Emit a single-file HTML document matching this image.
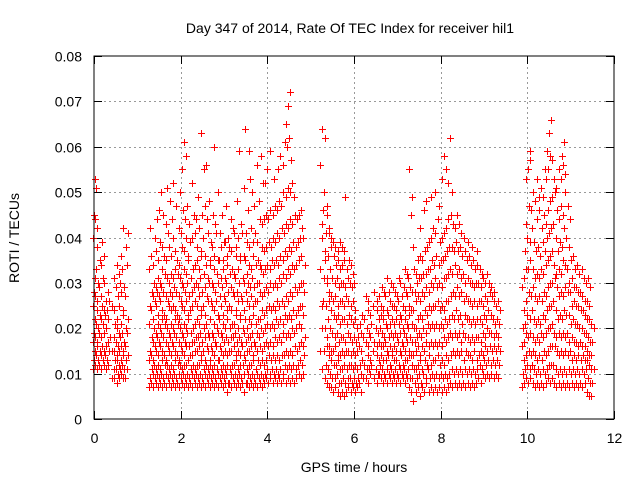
<!DOCTYPE html>
<html><head><meta charset="utf-8"><style>
body{margin:0;background:#fff;}
svg{display:block;font-family:"Liberation Sans",sans-serif;}
</style></head><body>
<svg id="chart" width="640" height="480">
<rect width="640" height="480" fill="#fff"/>
<text x="350" y="33" font-size="14" text-anchor="middle">Day 347 of 2014, Rate Of TEC Index for receiver hil1</text>
<text x="354" y="472" font-size="14" text-anchor="middle">GPS time / hours</text>
<text transform="translate(19,238) rotate(-90)" font-size="14" text-anchor="middle">ROTI / TECUs</text>
<g id="grid"></g><g id="ticks"></g><g id="points"></g>
<rect x="94" y="56" width="520" height="363" fill="none" stroke="#000"/>
</svg>
<script>
// Each row: [GPS time (h), ROTI values (milli-TECU/s)...]
const segmentA=[
[0,11,13,15,17,19,22,25,28,31,40,45,53],[0.05,12,14,16,18,21,24,27,33,38,44,51],[0.1,11,13,15,17,20,23,26,30,35,42],[0.15,12,14,16,19,22,25,29,34,39],[0.2,11,13,15,18,21,24,27,31,36],[0.25,12,14,16,19,23,26,30],[0.3,11,13,17,20,24,28],[0.35,12,15,18,22,26],
[0.45,9,11,13,15,18,21,25,31],[0.5,9,11,13,15,17,20,24,29,34],[0.55,8,10,12,14,16,19,22,27,32],[0.6,9,11,13,15,18,21,25,30,36],[0.65,10,12,14,16,19,23,28,33],[0.7,9,11,13,15,17,20,24,29,38,42],[0.75,9,11,14,16,19,22,27,34,41]];
const segmentB=[
[1.3,7,9,11,13,15,18,21,25,28,33,42],[1.35,8,10,12,14,17,20,24,27,30,36],[1.4,7,9,11,13,16,19,22,26,29,34,40],[1.45,8,10,12,15,18,21,25,28,31,37,44],[1.5,7,9,11,14,17,20,23,27,30,35,46],[1.55,8,10,13,16,19,22,26,29,33,39,50],[1.6,7,9,12,15,18,21,24,28,32,38,45],[1.65,8,10,12,14,17,20,23,27,31,36,43,51],[1.7,7,9,11,13,16,19,22,26,30,35,41],[1.75,8,10,12,15,18,21,25,28,32,38,48],[1.8,7,9,11,14,17,20,24,27,31,36,44,52],[1.85,8,10,13,16,19,22,25,29,33,40],[1.9,7,9,12,15,18,21,24,28,32,37,47],[1.95,8,10,12,14,17,20,23,27,31,35,42,50],
[2.0,7,9,11,13,16,19,22,26,30,34,41,55],[2.05,8,10,12,15,18,21,25,29,33,38,46,61],[2.1,7,9,12,14,17,20,24,28,32,37,44,58],[2.15,8,10,13,16,19,22,26,30,35,40,47],[2.2,7,9,11,13,16,19,23,27,31,36,43],[2.25,8,10,12,14,17,20,24,28,33,39,52],[2.3,7,9,11,14,17,21,25,29,34,40,45],[2.35,8,10,12,15,18,22,26,30,35,41,44],[2.4,7,9,12,15,18,21,25,29,33,38,49],[2.45,8,10,13,16,19,23,27,31,36,42],[2.5,7,9,11,14,17,20,24,28,32,37,45,55,63],[2.55,8,10,12,15,18,21,25,29,34,40,47,56],[2.6,7,9,11,13,16,19,23,27,31,36,44],[2.65,8,10,12,15,18,22,26,30,35,41,48],[2.7,7,9,11,13,16,19,22,26,30,34,39],[2.75,8,10,12,15,18,21,25,29,33,38,45,60],[2.8,7,9,11,14,17,20,24,28,32,36,43],[2.85,8,10,13,16,19,22,26,30,35,41,50],[2.9,7,9,11,13,16,19,23,27,31,35,41],[2.95,8,10,12,15,18,21,25,29,33,38,45],
[3.0,7,9,11,14,17,20,23,27,31,35,39],[3.05,8,10,12,15,18,22,26,30,34,39,47],[3.1,6,8,11,14,17,20,24,28,32,36,40],[3.15,8,10,12,15,18,21,25,29,33,38,44],[3.2,7,9,12,15,18,21,24,28,32,37,42],[3.25,8,10,13,16,19,23,27,31,36,41],[3.3,7,9,11,14,17,20,24,28,33,38,48],[3.35,8,10,12,15,18,22,26,30,35,40,59],[3.4,7,9,12,14,17,20,23,27,31,36,43],[3.45,8,10,13,16,19,22,26,30,35,41,51,64],[3.5,6,8,11,14,17,20,24,28,32,36,41],[3.55,8,10,12,15,18,22,26,30,34,39,46,59],[3.6,7,9,12,15,18,21,25,29,33,38,53],[3.65,8,10,13,16,19,23,27,31,36,42,50],[3.7,7,9,11,14,17,21,25,29,34,39,47],[3.75,8,10,13,16,19,22,26,30,35,41,56],[3.8,7,9,12,15,18,22,26,30,34,39,48],[3.85,8,10,13,16,20,24,28,33,38,44,58],[3.9,7,9,12,15,19,23,27,32,37,43,52],[3.95,8,10,13,16,20,24,28,33,38,44,52],
[4.0,9,11,14,17,21,25,29,34,39,45,55],[4.05,8,10,13,16,20,24,28,33,38,44,59],[4.1,9,11,14,17,21,25,30,35,40,46],[4.15,8,10,13,16,20,24,29,34,39,45,53],[4.2,9,11,14,18,22,26,30,35,41,47],[4.25,8,10,13,17,21,25,29,34,40,46,55],[4.3,9,11,14,18,22,26,31,36,42,48,58],[4.35,8,10,14,17,21,25,30,35,41,47,56],[4.4,9,12,15,19,23,27,32,37,43,50,61],[4.45,8,11,14,18,22,26,31,36,42,49,60,69,65],[4.5,9,12,15,19,23,28,33,38,44,51,62,72],[4.55,8,11,14,18,22,27,32,37,43,50,57],[4.6,9,12,16,20,24,29,34,39,45,52],[4.65,8,11,15,19,23,28,33,38,44,49],[4.7,9,12,16,20,24,29,34,39,45],[4.75,10,13,17,21,25,30,35,40,46],[4.8,9,12,16,20,25,30,36,42],[4.85,10,14,18,23,28,34,40]];
const segmentC=[
[5.25,15,20,26,33,40,46,56,64],[5.3,11,15,20,25,31,37,43,50,62],[5.35,9,12,16,20,25,30,35,41,47],[5.4,8,11,14,18,22,26,31,36,41,45],[5.45,7,10,13,16,20,24,28,33,38,42],[5.5,7,9,12,15,19,23,27,31,36,40],[5.55,6,9,12,15,18,22,26,30,34,39],[5.6,7,10,13,16,19,23,27,31,35,38],[5.65,6,8,11,14,17,21,25,29,33,37],[5.7,5,8,11,14,18,22,26,30,34,39],[5.75,6,9,12,15,18,22,26,30,35,38],[5.8,5,8,11,14,17,21,25,29,33,37,49],[5.85,6,9,12,15,19,23,27,31,35],[5.9,7,9,12,15,18,22,26,30,34],[5.95,6,8,11,14,17,21,25,29,32],
[6.0,7,9,12,15,18,22,26,30],[6.05,6,8,11,14,17,20,24],[6.1,7,9,12,15,18,21],[6.15,8,10,13,16,19,23],[6.2,6,9,12,15,18,22],[6.3,9,11,14,17,20,24,27],[6.35,8,11,13,16,19,23,26],[6.4,10,12,15,18,21,25],[6.5,9,11,14,17,20,24,28],[6.55,8,10,13,16,19,22,26],[6.6,10,12,14,17,20,23,27],[6.65,9,11,13,16,19,22,25,29],[6.7,8,10,13,16,18,21,24,28],[6.75,9,11,14,17,20,23,27,31],[6.8,8,10,12,15,18,21,24,28],[6.85,9,11,14,16,19,22,26,30],[6.9,8,10,13,15,18,21,25,29],[6.95,9,11,13,16,19,22,25,28],
[7.0,8,10,12,15,18,21,24,27,31],[7.05,9,11,14,17,19,22,26,30],[7.1,8,10,12,15,17,20,23,27],[7.15,9,11,13,16,19,22,25,29,33],[7.2,8,10,13,15,18,21,24,28,32],[7.25,9,11,14,17,20,23,27,31],[7.3,7,9,12,15,18,21,25,29,49,55],[7.35,6,9,11,14,17,20,24,28,33,45],[7.4,4,8,11,14,17,20,24,28,32,38],[7.45,6,9,12,15,18,22,26,30,35],[7.5,7,10,13,16,19,23,27,31,36],[7.55,5,8,11,14,18,22,26,31,35,42],[7.6,7,10,13,16,20,24,28,32,37],[7.65,6,9,12,15,19,23,27,32,38,46],[7.7,8,11,14,17,21,25,29,33,39,48],[7.75,6,9,12,16,20,24,28,33,40],[7.8,7,10,13,17,21,25,30,35,42,49],[7.85,6,9,13,16,20,25,29,34,41],[7.9,7,10,14,17,21,26,31,36,44,50],[7.95,6,9,12,16,20,24,29,34,39],
[8.0,7,10,13,17,21,25,30,35,40,47],[8.05,6,9,12,16,20,24,29,35,41,53],[8.1,7,10,14,18,22,26,31,36,42,58],[8.15,6,9,13,17,21,26,31,37,44,55],[8.2,7,10,14,18,22,27,32,38,45,52],[8.25,8,11,15,19,23,28,33,38,43,62],[8.3,7,10,14,18,22,27,32,37,42,50],[8.35,8,11,15,19,24,29,34,39,45],[8.4,7,10,14,18,22,27,32,37,43],[8.45,8,11,15,19,23,28,33,38,41],[8.5,7,10,13,17,21,26,31,36,40],[8.55,8,11,15,19,23,27,32,37],[8.6,7,10,14,18,22,26,30,35,39],[8.65,8,11,14,18,22,26,31,36],[8.7,7,10,13,17,21,25,30,34,38],[8.75,8,11,15,18,22,26,30,35],[8.8,7,10,13,17,21,25,29,33,37],[8.85,8,11,14,18,22,26,30,34],[8.9,9,12,15,18,22,26,30,33],[8.95,8,11,14,17,21,25,29,32],
[9.0,10,13,16,19,23,27,31],[9.05,9,12,15,18,22,26,30],[9.1,10,13,16,20,24,28,32],[9.15,9,12,15,19,23,27,30],[9.2,10,13,16,19,22,26,29],[9.25,9,12,15,18,21,25,28],[9.3,10,13,16,19,22,26],[9.35,9,12,15,18,21,24]];
const segmentD=[
[9.9,7,10,13,16,20,24,29],[9.95,8,11,14,17,21,26,31,37,43],[10.0,9,12,15,19,23,28,33,40,47,53],[10.05,8,11,14,18,22,27,33,39,46,55,59],[10.1,9,12,15,19,24,29,35,42,50,57],[10.15,8,11,14,18,22,27,33,39,48],[10.2,7,10,13,17,21,26,31,37,44],[10.25,8,11,14,18,22,27,32,38,46,53],[10.3,7,10,13,17,21,26,31,36,42,49],[10.35,8,11,15,19,23,28,33,39,45,51],[10.4,7,10,14,18,22,27,32,37,43,49,55],[10.45,8,11,15,19,24,29,34,40,46,53,59],[10.5,9,12,16,20,25,30,35,41,48,55,63],[10.55,8,12,16,20,25,30,36,42,49,58,66],[10.6,9,12,16,21,26,31,37,43,50,57],[10.65,8,11,15,19,24,29,34,40,46,53],[10.7,7,10,14,18,22,27,32,37,44,51],[10.75,8,11,15,19,23,28,33,39,47,55],[10.8,7,10,14,18,22,27,32,38,45,53,58],[10.85,8,11,15,19,24,29,35,42,50,56,61],[10.9,7,10,14,18,23,28,34,40,47,54],[10.95,8,11,15,19,23,28,33,38,44],
[11.0,7,10,13,17,21,25,30,35],[11.05,8,11,14,18,22,26,31,36],[11.1,7,10,13,17,21,25,29,33],[11.15,8,11,14,17,21,25,29,34],[11.2,7,10,13,16,20,24,28,32],[11.25,8,11,14,17,20,24,28,33],[11.3,7,10,13,16,19,23,27,31],[11.35,8,11,13,16,19,22,26,30],[11.4,6,9,12,15,18,22,26,31],[11.45,5,8,11,14,17,21,25,29],[11.5,5,8,11,14,17,20]];
const yTicks=[0,0.01,0.02,0.03,0.04,0.05,0.06,0.07,0.08];
const xTicks=[0,2,4,6,8,10,12];
const X0=94,X1=614,Y0=419,Y1=56;
const xs=t=>X0+(t/12)*(X1-X0);
const ys=v=>Y0-(v/0.08)*(Y0-Y1);
const NS='http://www.w3.org/2000/svg';
const grid=document.getElementById('grid'),tk=document.getElementById('ticks'),pts=document.getElementById('points');
function mk(tag,attrs,parent){const e=document.createElementNS(NS,tag);for(const k in attrs)e.setAttribute(k,attrs[k]);parent.appendChild(e);return e;}
yTicks.forEach(v=>{const y=Math.round(ys(v))+0.5;
 if(v>0&&v<0.08){const g=mk('line',{x1:X0,x2:X1,y1:y,y2:y,stroke:'#999','stroke-dasharray':'2,3'},grid);
 
 }
 mk('line',{x1:X0,x2:X0+8,y1:y,y2:y,stroke:'#000'},tk);mk('line',{x1:X1,x2:X1-8,y1:y,y2:y,stroke:'#000'},tk);
 const t=mk('text',{x:82,y:y+5,'font-size':14,'text-anchor':'end'},tk);t.textContent=v===0?'0':v.toFixed(2);
 
 });
xTicks.forEach(h=>{const x=Math.round(xs(h))+0.5;
 if(h>0&&h<12){const g=mk('line',{x1:x,x2:x,y1:Y0,y2:Y1,stroke:'#999','stroke-dasharray':'2,3'},grid);
 
 }
 mk('line',{x1:x,x2:x,y1:Y0,y2:Y0-8,stroke:'#000'},tk);mk('line',{x1:x,x2:x,y1:Y1,y2:Y1+8,stroke:'#000'},tk);
 const t=mk('text',{x:x,y:443,'font-size':14,'text-anchor':'middle'},tk);t.textContent=String(h);
 
 });
[segmentA,segmentB,segmentC,segmentD].forEach(seg=>{
 let d='';
 seg.forEach(row=>{const t=row[0];row.slice(1).forEach((v,j)=>{
  const x=Math.round(xs(t)+((j%3)-1)*1.2)+0.5,y=Math.round(ys(v/1000))+0.5;
  d+=`M${x-3.5} ${y}h7M${x} ${y-3.5}v7`;});});
 const p=mk('path',{d:d,stroke:'#ff0000','stroke-width':1,fill:'none','shape-rendering':'crispEdges'},pts);
 
 
});
</script>
</body></html>
